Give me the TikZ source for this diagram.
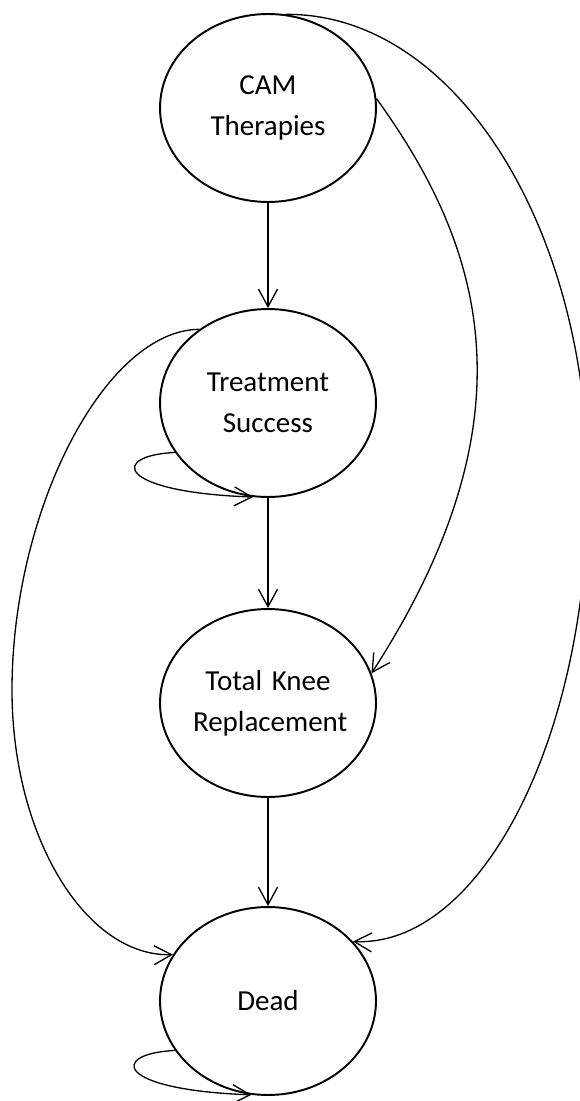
\documentclass[tikz,border=0pt]{standalone}
\usepackage{fontspec}
\setmainfont{Carlito}
\usetikzlibrary{arrows.meta,shapes.geometric}

\begin{document}
\begin{tikzpicture}[
            x=0.02cm, y=-0.02cm,
            state/.style={ellipse, draw, line width=1.1pt, inner sep=0pt,
                minimum width=4.32cm, minimum height=3.76cm,
                text width=3cm, align=center,
                font=\fontsize{16.5}{23.3}\selectfont},
            trans/.style={line width=0.75pt, -{Straight Barb[length=0.35cm, width=0.38cm]}}
        ]
            \useasboundingbox (0, 0) rectangle (580, 1101);

            \node[state] (cam) at (268, 108) {CAM\\Therapies};
            \node[state] (success) at (268, 403) {Treatment\\Success};
            \node[state] (tkr) at (268, 703) {Total Knee\\Replacement};
            \node[state] (dead) at (268, 1001) {Dead};

            % straight down
            \draw[trans] (cam) -- (success);
            \draw[trans] (success) -- (tkr);
            \draw[trans] (tkr) -- (dead);

            % curves on the right
            \draw[trans] (cam.5) .. controls (486, 250) and (535, 420) .. (tkr.16);
            \draw[trans] (cam.79) .. controls (453, 13) and (588, 224) .. (588, 485)
                .. controls (588, 740) and (480, 947) .. (dead.35);

            % curve on the left
            \draw[trans] (success.133) .. controls (105, 330) and (12, 510) .. (12, 690)
                .. controls (12, 837) and (86, 957) .. (dead.154);

            % self loops
            \draw[trans] (success.208) .. controls +(-65, 3) and +(-138, -5) .. (success.261);
            \draw[trans] (dead.208) .. controls +(-65, 3) and +(-138, -5) .. (dead.260);
        \end{tikzpicture}
\end{document}
